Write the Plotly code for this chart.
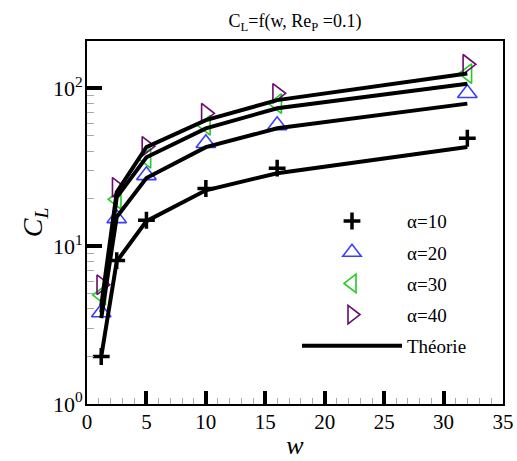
import plotly.graph_objects as go

# data
w_exp = [1.2, 2.5, 5, 10, 16, 32]
cl_a10 = [2.0, 8.1, 14.6, 23.2, 31.2, 48.3]
cl_a20 = [3.8, 15.0, 28.1, 44.9, 58.3, 93.0]
cl_a30 = [4.9, 19.8, 36.0, 58.3, 80.0, 124.0]
cl_a40 = [5.7, 23.6, 42.9, 69.5, 93.0, 142.0]

w_th = [1.2, 2.5, 5, 10, 16, 32]
th_a10 = [2.0, 8.0, 14.4, 22.6, 29.0, 42.5]
th_a20 = [3.5, 15.3, 27.0, 42.4, 55.8, 80.0]
th_a30 = [3.8, 20.4, 36.6, 55.8, 74.8, 107.0]
th_a40 = [4.2, 22.0, 42.4, 62.9, 84.2, 124.0]

labels = ["α=10", "α=20", "α=30", "α=40"]
theory_label = "Théorie"

x_ticks = [0, 5, 10, 15, 20, 25, 30, 35]
y_tickvals = [1, 10, 100]
y_ticktext = ["10<sup>0</sup>", "10<sup>1</sup>", "10<sup>2</sup>"]

FONT = "Liberation Serif, Times New Roman, serif"

fig = go.Figure()

styles = [
    dict(symbol="cross-thin-open", size=12, color="black", lw=3.5),
    dict(symbol="triangle-up-open", size=17, color="#3c3cff", lw=1.6),
    dict(symbol="triangle-left-open", size=17, color="#22cc22", lw=1.6),
    dict(symbol="triangle-right-open", size=17, color="#6a0a6e", lw=1.6),
]
exp_series = [cl_a10, cl_a20, cl_a30, cl_a40]
for i, (ys, st, lab) in enumerate(zip(exp_series, styles, labels)):
    fig.add_trace(go.Scatter(
        x=w_exp, y=ys, mode="markers", name=lab, legendgroup=f"g{i}",
        marker=dict(symbol=st["symbol"], size=st["size"],
                    color=st["color"], line=dict(color=st["color"], width=st["lw"])),
    ))

th_series = [th_a10, th_a20, th_a30, th_a40]
for i, ys in enumerate(th_series):
    fig.add_trace(go.Scatter(
        x=w_th, y=ys, mode="lines", name=theory_label, legendgroup="th",
        showlegend=(i == 0), line=dict(color="black", width=4),
    ))

fig.update_layout(
    width=517, height=461,
    margin=dict(l=87, r=14, t=41, b=57, autoexpand=False),
    paper_bgcolor="white", plot_bgcolor="white",
    font=dict(family=FONT, color="black"),
    title=dict(text="C<sub>L</sub>=f(w, Re<sub>P</sub> =0.1)", x=0.5, xref="paper",
               xanchor="center", y=0.955, yanchor="middle",
               font=dict(size=18, family=FONT)),
    legend=dict(x=0.5048, y=0.556, xanchor="left", yanchor="top",
                bgcolor="rgba(0,0,0,0)", font=dict(size=19, family=FONT),
                tracegroupgap=3.5, itemwidth=100),
    showlegend=True,
)

fig.update_xaxes(
    range=[0, 35], tickvals=x_ticks, showgrid=False, zeroline=False, automargin=False,
    showline=True, linecolor="black", linewidth=2, mirror=True,
    ticks="inside", ticklen=13, tickwidth=4, tickcolor="black",
    tickfont=dict(size=21, family=FONT), ticklabelstandoff=-2,
    minor=dict(ticks="inside", dtick=1, ticklen=6, tickwidth=1, tickcolor="#aaaaaa", showgrid=False),
    title=dict(text="<i>w</i>", font=dict(size=26, family=FONT), standoff=3),
)
fig.update_yaxes(
    type="log", range=[0, 2.3], tickvals=y_tickvals, ticktext=y_ticktext,
    showgrid=False, zeroline=False, automargin=False,
    showline=True, linecolor="black", linewidth=2, mirror=True,
    ticks="inside", ticklen=15, tickwidth=4, tickcolor="black",
    tickfont=dict(size=22, family=FONT), ticklabelstandoff=-2,
    minor=dict(ticks="inside", dtick="D1", ticklen=7, tickwidth=1, tickcolor="#aaaaaa", showgrid=False),
    title=dict(text="<i>C<sub>L</sub></i>", font=dict(size=28, family=FONT), standoff=2),
)

fig.write_html("out.html", config={"displayModeBar": False},
               post_script="document.body.style.margin='0';")
